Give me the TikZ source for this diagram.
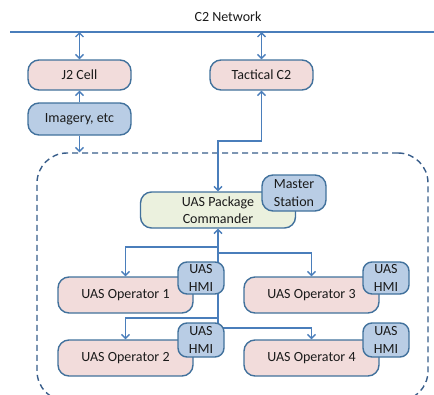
\documentclass[tikz,border=0pt]{standalone}
\usepackage{fontspec}
\setmainfont{Carlito}
\usetikzlibrary{arrows.meta}
\definecolor{pinkf}{HTML}{F2DCDB}
\definecolor{bluef}{HTML}{B9CDE5}
\definecolor{greenf}{HTML}{EBF1DE}
\definecolor{bord}{HTML}{41719C}
\definecolor{conn}{HTML}{4A7EBB}
\definecolor{dashc}{HTML}{385D8A}
\definecolor{txt}{HTML}{1A1A1A}
\tikzset{
  box/.style={draw=bord, line width=1.4pt, rounded corners=11pt, align=center, inner sep=0pt, text=txt,
    font=\fontsize{14}{17.5}\selectfont},
  pinkbox/.style={box, fill=pinkf},
  bluebox/.style={box, fill=bluef},
  greenbox/.style={box, fill=greenf},
  wire/.style={draw=conn, line width=1.4pt, -{Straight Barb[length=4pt,width=8pt]}},
  dwire/.style={draw=conn, line width=1.4pt, {Straight Barb[length=4pt,width=8pt]}-{Straight Barb[length=4pt,width=8pt]}},
}
\begin{document}
\begin{tikzpicture}[x=1pt,y=-1pt]
\useasboundingbox (0,0) rectangle (434,394);
% group
\node[draw=dashc, line width=1.4pt, dash pattern=on 6pt off 4pt, rounded corners=30pt,
  minimum width=391pt, minimum height=248pt, inner sep=0pt] (grp) at (232.5,277) {};
% network
\node[font=\fontsize{14}{17.5}\selectfont, text=txt] (net) at (228,17) {C2 Network};
\coordinate (netL) at (10,32);
\coordinate (netR) at (434,32);
\draw[conn, line width=1.4pt] (netL) -- (netR);
% top boxes
\node[pinkbox, minimum width=103pt, minimum height=30pt] (j2) at (79.5,75) {J2 Cell};
\node[pinkbox, minimum width=103pt, minimum height=30pt] (tac) at (261.5,75) {Tactical C2};
\node[bluebox, minimum width=103pt, minimum height=32pt] (img) at (79.5,119) {Imagery, etc};
% hub coordinates
\coordinate (t1) at (218,141);
\coordinate (h1) at (218,247);
\coordinate (h2) at (218,253);
\coordinate (h3) at (218,318);
\coordinate (h4) at (218,328);
% operators
\node[pinkbox, minimum width=135pt, minimum height=36pt] (op1) at (125.5,295) {UAS Operator 1};
\node[pinkbox, minimum width=135pt, minimum height=36pt] (op3) at (311.5,295) {UAS Operator 3};
\node[pinkbox, minimum width=135pt, minimum height=36pt] (op2) at (125.5,358) {UAS Operator 2};
\node[pinkbox, minimum width=135pt, minimum height=36pt] (op4) at (311.5,358) {UAS Operator 4};
% connectors
\draw[dwire] (j2.north) -- (j2.north |- netL);
\draw[dwire] (tac.north) -- (tac.north |- netL);
\draw[wire] (img.north) -- (j2.south);
\draw[wire] (img.south) -- (img.south |- grp.north);
\node[greenbox, minimum width=155pt, minimum height=36pt] (pkg) at (218,210) {UAS Package\\Commander};
\draw[dwire] (tac.south) |- (t1) -- (pkg.north);
\draw[wire] (h4) -- (pkg.south);
\draw[wire] (h1) -| (op1.north);
\draw[wire] (h2) -| (op3.north);
\draw[wire] (h3) -| (op2.north);
\draw[wire] (h4) -| (op4.north);
% small boxes
\node[bluebox, minimum width=64pt, minimum height=36pt] (ms) at (294,193) {Master\\Station};
\node[bluebox, minimum width=46pt, minimum height=32pt, rounded corners=9pt] (hmi1) at (201,278) {UAS\\HMI};
\node[bluebox, minimum width=46pt, minimum height=32pt, rounded corners=9pt] (hmi3) at (386,278) {UAS\\HMI};
\node[bluebox, minimum width=46pt, minimum height=34pt, rounded corners=9pt] (hmi2) at (201,340) {UAS\\HMI};
\node[bluebox, minimum width=46pt, minimum height=34pt, rounded corners=9pt] (hmi4) at (386,340) {UAS\\HMI};
\end{tikzpicture}
\end{document}
